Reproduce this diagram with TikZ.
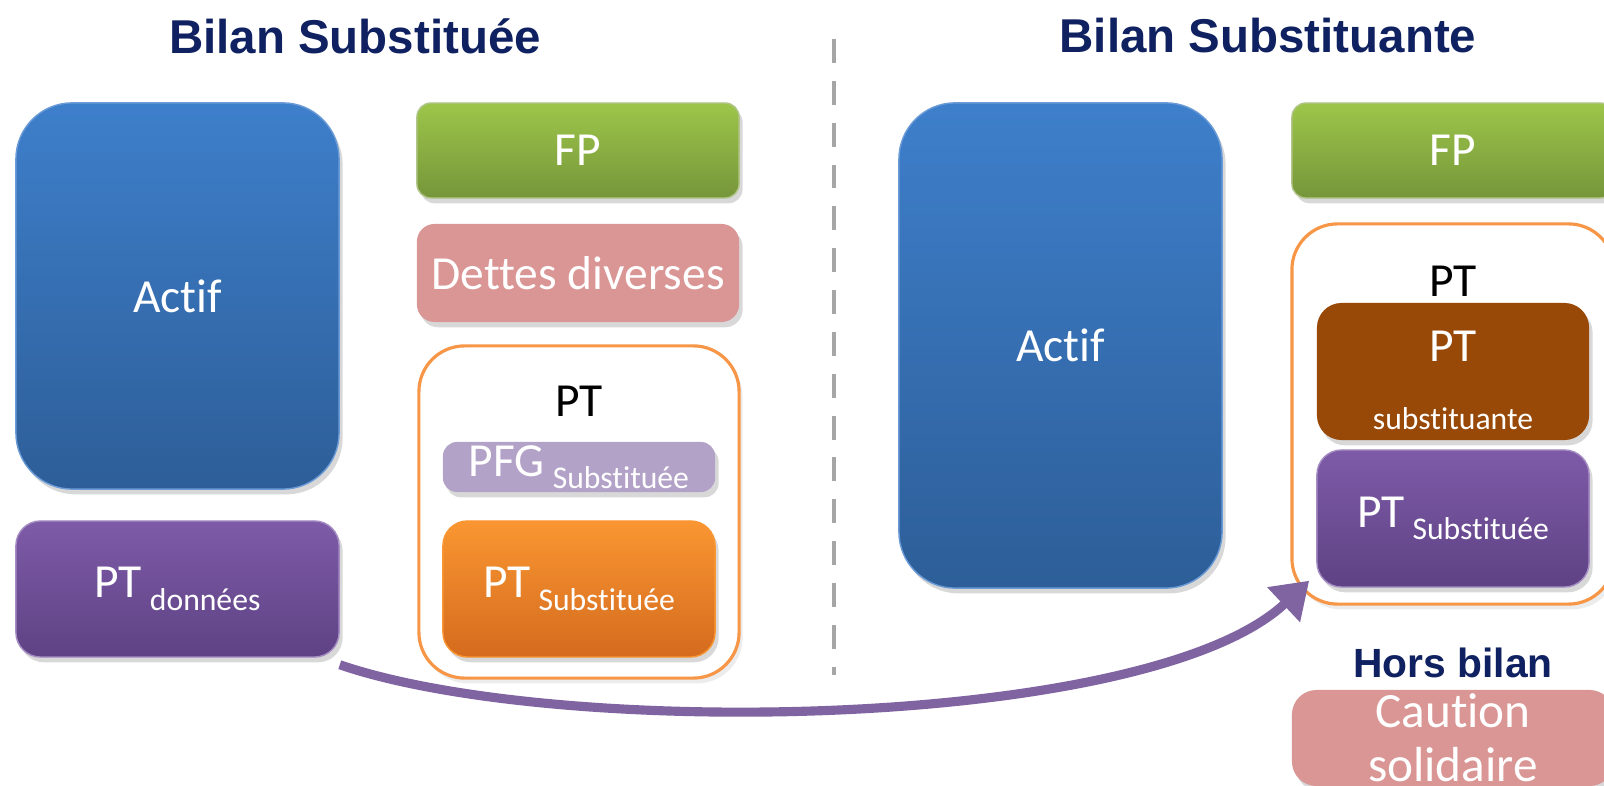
\documentclass[tikz,border=0pt]{standalone}
\usepackage{fontspec}
\setmainfont{Carlito}[Ligatures={NoCommon,NoContextual}, Contextuals={NoAlternate}]
\setsansfont{Liberation Sans}
\usetikzlibrary{arrows.meta,shadows}

\definecolor{titleblue}{HTML}{0F2160}
\definecolor{actiftop}{HTML}{3E7FCB}
\definecolor{actifbot}{HTML}{2D5E98}
\definecolor{actifline}{HTML}{6A9BD6}
\definecolor{fptop}{HTML}{9DC54A}
\definecolor{fpbot}{HTML}{76963A}
\definecolor{rose}{HTML}{D99694}
\definecolor{lilas}{HTML}{B3A2C7}
\definecolor{orangetop}{HTML}{FA9632}
\definecolor{orangebot}{HTML}{D46B1E}
\definecolor{violettop}{HTML}{7E5BA8}
\definecolor{violetbot}{HTML}{5E4284}
\definecolor{brun}{HTML}{984807}
\definecolor{fleche}{HTML}{8064A2}
\definecolor{cadre}{HTML}{F79646}
\definecolor{trait}{HTML}{A6A6A6}

\newcommand{\indice}[1]{\,{\fontsize{9}{11}\selectfont\raisebox{-3.5pt}{#1}}}

\begin{document}
\begin{tikzpicture}
[
    x=0.01cm, y=-0.01cm,
    bloc/.style={rounded corners=7pt, text=white, inner sep=0pt,
        font=\fontsize{13.5}{16}\selectfont, minimum width=2.72cm,
        drop shadow={opacity=0.3, shadow xshift=1pt, shadow yshift=-1.5pt}},
    actif/.style={bloc, rounded corners=16pt, minimum width=3.23cm,
        top color=actiftop, bottom color=actifbot, draw=actifline},
    fp/.style={bloc, rounded corners=4pt, minimum width=3.22cm, minimum height=0.95cm,
        top color=fptop, bottom color=fpbot, draw=fptop!80!black!60},
    violet/.style={bloc, minimum height=1.36cm,
        top color=violettop, bottom color=violetbot, draw=violettop!70!white},
    cadrept/.style={draw=cadre, line width=0.9pt, fill=white, rounded corners=13pt,
        minimum width=3.2cm,
        drop shadow={opacity=0.15, shadow xshift=1pt, shadow yshift=-1.5pt}},
    titre/.style={text=titleblue, font=\sffamily\bfseries\fontsize{13.5}{16}\selectfont}
]
    \useasboundingbox (0,0) rectangle (1604,786);
    \clip (0,0) rectangle (1604,786);
    \fill[white] (0,0) rectangle (1604,786);

    % titres et separation
    \node[titre] (titreL) at (355,36) {Bilan Substituée};
    \node[titre] (titreR) at (1268,36) {Bilan Substituante};
    \draw[trait, line width=1.2pt, dash pattern=on 6.8pt off 5.1pt] (834,39) -- (834,675);

    % bilan substituee
    \node[actif, minimum height=3.86cm] (actifL) at (177.5,296) {Actif};
    \node[fp] (fpL) at (578,150.5) {FP};
    \node[bloc, rounded corners=5pt, fill=rose, minimum width=3.22cm, minimum height=0.98cm]
        (dettes) at (578,273) {Dettes diverses};
    \node[cadrept, minimum height=3.32cm] (ptL) at (579,512) {};
    \node[font=\fontsize{13.5}{16}\selectfont] (ptLabL) at (579,401) {PT};
    \node[bloc, rounded corners=4pt, fill=lilas, minimum height=0.5cm]
        (pfg) at (579,467) {PFG\indice{Substituée}};
    \node[bloc, top color=orangetop, bottom color=orangebot, draw=orangetop,
        minimum height=1.36cm] (ptsub1) at (579,589) {PT\indice{Substituée}};
    \node[violet, minimum width=3.23cm] (ptdon) at (177.5,589) {PT\indice{données}};

    % bilan substituante
    \node[actif, minimum height=4.85cm] (actifR) at (1060.5,345.5) {Actif};
    \node[fp] (fpR) at (1453,150.5) {FP};
    \node[cadrept, minimum height=3.8cm, minimum width=3.22cm] (ptR) at (1453,414) {};
    \node[font=\fontsize{13.5}{16}\selectfont] (ptLabR) at (1453,281) {PT};
    \node[bloc, fill=brun, minimum height=1.37cm] (ptsubR) at (1453,371.5) {};
    \node[text=white, font=\fontsize{13.5}{16}\selectfont] (ptsubRa) at (1453,346) {PT};
    \node[text=white, font=\fontsize{9}{11}\selectfont] (ptsubRb) at (1453,419) {substituante};
    \node[violet, minimum height=1.37cm] (ptsub2) at (1453,518.5) {PT\indice{Substituée}};
    \node[titre, font=\sffamily\bfseries\fontsize{11.6}{14}\selectfont] (hors) at (1453,663) {Hors bilan};
    \node[bloc, fill=rose, minimum width=3.22cm, minimum height=0.96cm, align=center,
        font=\fontsize{14}{15.3}\selectfont] (caution) at (1453,738) {Caution\\solidaire};

    % transfert des PT
    \draw[fleche, line width=2.6pt, -{Triangle[length=10pt, width=13pt]}]
        ([yshift=-2pt]ptdon.south east) .. controls (560,740) and (1150,730) .. ([xshift=-2pt,yshift=2pt]ptsub2.south west);
\end{tikzpicture}
\end{document}
